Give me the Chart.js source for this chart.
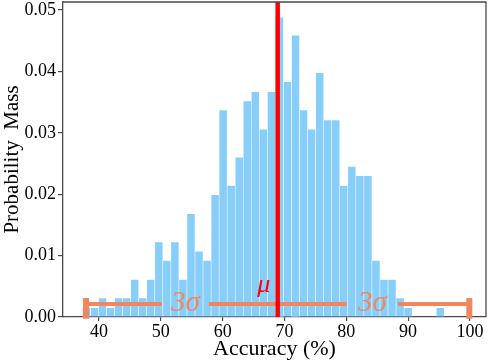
<!DOCTYPE html>
<html>
<head>
<meta charset="utf-8">
<script src="https://cdn.jsdelivr.net/npm/chart.js@4"></script>
<style>
  html, body { margin: 0; padding: 0; background: #fff; }
  #wrap { width: 488px; height: 362px; position: relative; }
</style>
</head>
<body>
<div id="wrap"><canvas id="c"></canvas></div>
<script>
// ---- data ----
const binStart = 37.31;      // left edge of first bin (% accuracy)
const binWidth = 1.301;      // bin width (% accuracy)
const massValues = [0.0015, 0.0015, 0.0031, 0.0015, 0.0031, 0.0031, 0.0061, 0.0031, 0.0061, 0.0122,
                    0.0092, 0.0122, 0.0061, 0.0168, 0.0107, 0.0092, 0.0199, 0.0337, 0.0214, 0.0260,
                    0.0352, 0.0367, 0.0306, 0.0367, 0.0488, 0.0383, 0.0459, 0.0337, 0.0306, 0.0398,
                    0.0321, 0.0321, 0.0214, 0.0245, 0.0230, 0.0230, 0.0092, 0.0061, 0.0061, 0.0031,
                    0.0015, 0, 0, 0, 0.0015];
const meanAcc = 68.9;
const threeSigma = 31.0;
const xTicks = [40, 50, 60, 70, 80, 90, 100];
const yTicks = [0.00, 0.01, 0.02, 0.03, 0.04, 0.05];
const xRange = [34.17, 102.6];
const yRange = [0, 0.0513];
const errY = 0.0021;
const leftLabelGap = [50.15, 57.76];
const rightLabelGap = [80.07, 88.35];

const FONT = "'Liberation Serif', 'Times New Roman', serif";
const CORAL = 'rgb(243,133,95)';
const SPINE = '#4a4a4a';

const histData = massValues.map((v, i) => ({ x: binStart + binWidth * (i + 0.5), y: v }));
const lo = meanAcc - threeSigma, hi = meanAcc + threeSigma;

const errLine = [
  { x: lo, y: errY }, { x: leftLabelGap[0], y: errY },
  { x: (leftLabelGap[0] + leftLabelGap[1]) / 2, y: null },
  { x: leftLabelGap[1], y: errY }, { x: rightLabelGap[0], y: errY },
  { x: (rightLabelGap[0] + rightLabelGap[1]) / 2, y: null },
  { x: rightLabelGap[1], y: errY }, { x: hi, y: errY }
];
const capLines = [
  { x: lo, y: -0.0003 }, { x: lo, y: 0.0031 },
  { x: meanAcc, y: null },
  { x: hi, y: -0.0003 }, { x: hi, y: 0.0031 }
];

const overlay = {
  id: 'overlay',
  afterDatasetsDraw(chart) {
    const { ctx, chartArea: a, scales: { x, y } } = chart;
    ctx.save();
    // top & right spines
    ctx.strokeStyle = SPINE;
    ctx.lineWidth = 1.3;
    ctx.beginPath();
    ctx.moveTo(a.left, a.top);
    ctx.lineTo(a.right, a.top);
    ctx.lineTo(a.right, a.bottom);
    ctx.stroke();
    // labels
    ctx.textAlign = 'center';
    ctx.textBaseline = 'alphabetic';
    ctx.fillStyle = CORAL;
    ctx.font = "italic 29px " + FONT;
    ctx.fillText('3σ', x.getPixelForValue((leftLabelGap[0] + leftLabelGap[1]) / 2), y.getPixelForValue(errY) + 7);
    ctx.fillText('3σ', x.getPixelForValue((rightLabelGap[0] + rightLabelGap[1]) / 2), y.getPixelForValue(errY) + 7);
    ctx.fillStyle = '#ff0000';
    ctx.font = "italic 26px " + FONT;
    ctx.fillText('μ', x.getPixelForValue(meanAcc) - 14, y.getPixelForValue(errY) - 12);
    ctx.restore();
  }
};

new Chart(document.getElementById('c'), {
  data: {
    datasets: [
      {
        type: 'line', data: [{ x: meanAcc, y: yRange[0] }, { x: meanAcc, y: yRange[1] }],
        borderColor: '#ff0000', borderWidth: 4.5, pointRadius: 0, order: 0, clip: false
      },
      {
        type: 'line', data: errLine, borderColor: CORAL, borderWidth: 4, pointRadius: 0,
        spanGaps: false, order: 1, borderCapStyle: 'butt'
      },
      {
        type: 'line', data: capLines, borderColor: CORAL, borderWidth: 6, pointRadius: 0,
        spanGaps: false, order: 1, clip: false, borderCapStyle: 'butt'
      },
      {
        type: 'bar', data: histData, backgroundColor: 'rgb(135,206,250)',
        borderColor: 'rgba(255,255,255,0.55)', borderWidth: 0.6,
        barPercentage: 1.0, categoryPercentage: 1.0, order: 3
      }
    ]
  },
  options: {
    responsive: true, maintainAspectRatio: false, animation: false,
    layout: { padding: { top: 2, right: 2, left: 0, bottom: 0 } },
    plugins: { legend: { display: false }, tooltip: { enabled: false } },
    scales: {
      x: {
        type: 'linear', min: xRange[0], max: xRange[1], offset: false,
        afterBuildTicks: s => { s.ticks = xTicks.map(v => ({ value: v })); },
        afterFit: s => { s.height = 45; s.paddingLeft = 0; s.paddingRight = 0; },
        ticks: { color: '#000', font: { family: FONT, size: 18 }, padding: 0, maxRotation: 0 },
        grid: { offset: false, drawOnChartArea: false, drawTicks: true, tickLength: 4, color: SPINE, lineWidth: 1.2 },
        border: { display: true, color: SPINE, width: 1.3 },
        title: { display: true, text: 'Accuracy (%)', color: '#000', font: { family: FONT, size: 22 }, padding: { top: 0, bottom: 0 } }
      },
      y: {
        type: 'linear', min: yRange[0], max: yRange[1],
        afterBuildTicks: s => { s.ticks = yTicks.map(v => ({ value: v })); },
        afterFit: s => { s.width = 63; s.paddingTop = 0; s.paddingBottom = 0; },
        ticks: { color: '#000', font: { family: FONT, size: 18 }, padding: 2, callback: v => v.toFixed(2) },
        grid: { offset: false, drawOnChartArea: false, drawTicks: true, tickLength: 5, color: SPINE, lineWidth: 1.2 },
        border: { display: true, color: SPINE, width: 1.3 },
        title: { display: true, text: 'Probability  Mass', color: '#000', font: { family: FONT, size: 21 }, padding: { top: 0, bottom: 0 } }
      }
    }
  },
  plugins: [overlay]
});
</script>
</body>
</html>
